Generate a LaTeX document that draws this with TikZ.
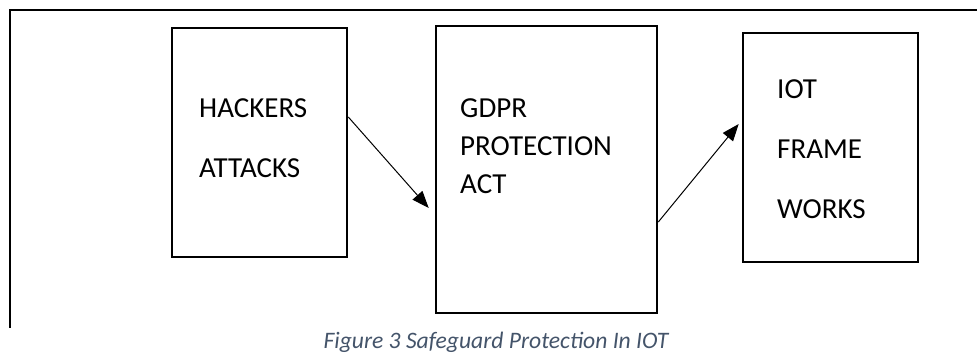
\documentclass[tikz,border=0pt]{standalone}
\usepackage{fontspec}
\setmainfont{Carlito}
\usetikzlibrary{arrows.meta}
\definecolor{captioncol}{HTML}{44546A}
\tikzset{
  block/.style={draw=black, line width=2.6pt, minimum width=#1, inner sep=0pt},
  blocktext/.style={anchor=base west, inner sep=0pt, font=\fontsize{29}{31}\selectfont},
  link/.style={line width=1pt, -{Triangle[length=17pt,width=13pt]}},
  frame/.style={line width=2.2pt}
}
\begin{document}
\begin{tikzpicture}[x=1pt,y=-1pt]
  \useasboundingbox (0,0) rectangle (977,353);

  % open frame: top and left edges only
  \coordinate (ftl) at (10,10);
  \coordinate (ftr) at (977,10);
  \coordinate (fbl) at (10,328);
  \draw[frame] (ftr) -- (ftl) -- (fbl);

  % the three blocks
  \node[block=175pt, minimum height=229pt] (hack) at (259.5,142.5) {};
  \node[block=221pt, minimum height=287pt] (gdpr) at (546.5,169.5) {};
  \node[block=175pt, minimum height=229pt] (iot)  at (830.5,147.5) {};

  % block labels
  \node[blocktext] (t1) at (199,117) {HACKERS};
  \node[blocktext] (t2) at (199,177) {ATTACKS};
  \node[blocktext] (t3) at (460,117) {GDPR};
  \node[blocktext] (t4) at (460,155) {PROTECTION};
  \node[blocktext] (t5) at (460,193) {ACT};
  \node[blocktext] (t6) at (777,99)  {IOT};
  \node[blocktext] (t7) at (777,158) {FRAME};
  \node[blocktext] (t8) at (777,218) {WORKS};

  % connectors
  \draw[link] ([yshift=25.5pt]hack.east) -- ([xshift=-6pt,yshift=-38.5pt]gdpr.west);
  \draw[link] ([yshift=-52.5pt]gdpr.east) -- ([xshift=-3pt,yshift=23.5pt]iot.west);

  % caption
  \node[anchor=base, inner sep=0pt, text=captioncol,
        font=\fontsize{23.6}{25}\selectfont\itshape] (cap) at (496,348)
        {Figure 3 Safeguard Protection In IOT};
\end{tikzpicture}
\end{document}
